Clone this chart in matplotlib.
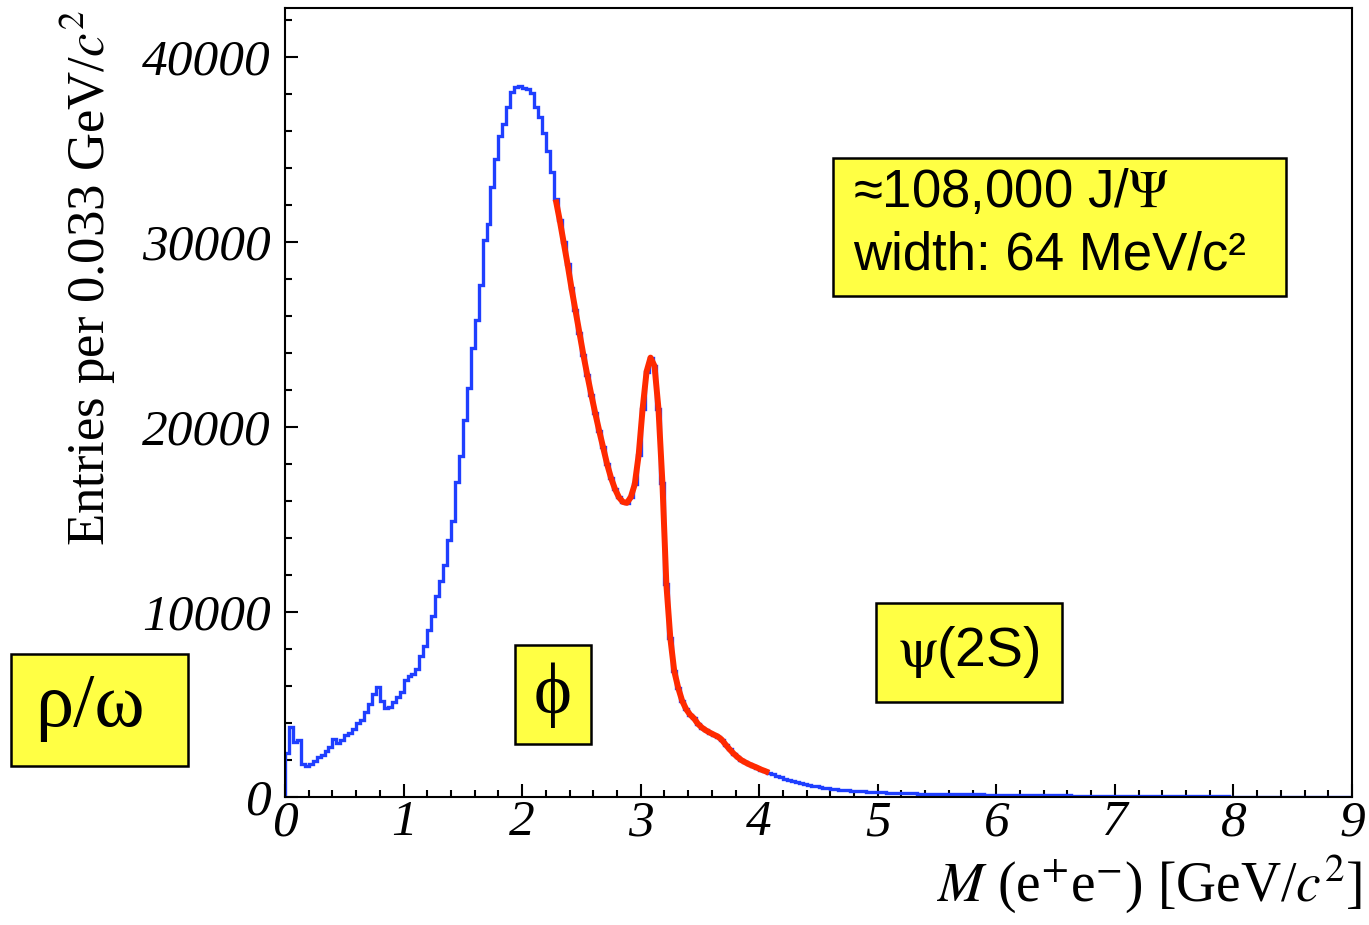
import numpy as np
import matplotlib
matplotlib.use('Agg')
import matplotlib.pyplot as plt
from matplotlib.patches import Rectangle
from matplotlib.ticker import MultipleLocator

plt.rcParams['mathtext.fontset'] = 'stix'

# histogram: 270 bins of 1/30 GeV/c^2 from 0 to 9
counts = [
    # 0 - 1
    2400, 3800, 3000, 3100, 1800, 1650, 1800, 1950, 2150, 2250,
    2500, 2700, 3150, 2900, 3100, 3350, 3450, 3650, 4000, 4150,
    4600, 5050, 5550, 5950, 5200, 4800, 4850, 5150, 5400, 5650,
    # 1 - 2
    6300, 6550, 6650, 6900, 7600, 8150, 9050, 9800, 10850, 11650,
    12550, 13900, 14900, 17050, 18450, 20400, 22100, 24250, 25800, 27650,
    30100, 31000, 32950, 34500, 35750, 36400, 37300, 38100, 38400, 38450,
    # 2 - 3
    38350, 38250, 38050, 37300, 36750, 35900, 34900, 33800, 32300, 31200,
    30000, 28800, 27500, 26300, 25100, 23900, 22800, 21750, 20750, 19800,
    18900, 18000, 17250, 16650, 16200, 15950, 15900, 16200, 16900, 18500,
    # 3 - 4
    21000, 23000, 23750, 23300, 21000, 17000, 11500, 8600, 6800, 5900,
    5200, 4750, 4450, 4250, 3950, 3750, 3600, 3480, 3370, 3270,
    3100, 2830, 2580, 2350, 2160, 1990, 1870, 1760, 1670, 1580,
    # 4 - 5
    1480, 1400, 1310, 1220, 1140, 1060, 990, 920, 850, 790,
    740, 690, 640, 610, 570, 540, 500, 470, 440, 410,
    390, 375, 360, 345, 330, 315, 300, 290, 280, 265,
    # 5 - 6
    255, 245, 240, 230, 225, 215, 210, 200, 195, 190,
    180, 175, 172, 170, 168, 165, 162, 160, 158, 155,
    152, 150, 148, 145, 142, 140, 138, 135, 132, 130,
    # 6 - 7
    128, 125, 122, 120, 118, 115, 112, 110, 108, 105,
    102, 100, 98, 95, 92, 90, 88, 85, 82, 80,
    78, 76, 74, 72, 70, 68, 66, 64, 62, 60,
    # 7 - 8
    58, 57, 56, 55, 53, 52, 50, 49, 48, 46,
    45, 44, 43, 42, 41, 40, 39, 38, 37, 36,
    35, 34, 33, 32, 31, 30, 30, 29, 28, 27,
    # 8 - 9
    27, 26, 25, 25, 24, 23, 23, 22, 22, 21,
    21, 20, 20, 19, 19, 18, 18, 17, 17, 16,
    16, 15, 15, 15, 14, 14, 14, 13, 13, 13,
]
fit_first_bin = 68
fit_last_bin = 122

blue = '#1f3fff'
red = '#ff2a00'
yellow = '#ffff44'

fig = plt.figure(figsize=(13.69, 9.25), dpi=100)
ax = fig.add_axes([285/1369, 1 - 797/925, (1352 - 285)/1369, (797 - 8)/925])

counts = np.array(counts, dtype=float)
edges = np.linspace(0, 9, len(counts) + 1)
centers = 0.5 * (edges[1:] + edges[:-1])

ax.stairs(counts, edges, color=blue, lw=2.4, zorder=2)
ax.plot(centers[fit_first_bin:fit_last_bin + 1], counts[fit_first_bin:fit_last_bin + 1],
        color=red, lw=4.3, solid_capstyle='butt', solid_joinstyle='round', zorder=3)

ax.set_xlim(0, 9)
ax.set_ylim(0, 42650)
ax.xaxis.set_major_locator(MultipleLocator(1))
ax.xaxis.set_minor_locator(MultipleLocator(0.2))
ax.yaxis.set_major_locator(MultipleLocator(10000))
ax.yaxis.set_minor_locator(MultipleLocator(2000))
ax.tick_params(which='both', direction='in', top=False, right=False, width=1.5, color='black')
ax.tick_params(which='major', length=9.5)
ax.tick_params(which='minor', length=5)
ax.tick_params(axis='y', pad=10)
ax.tick_params(axis='x', pad=2)
for sp in ax.spines.values():
    sp.set_linewidth(1.5)
for lab in ax.get_xticklabels() + ax.get_yticklabels():
    lab.set_fontfamily('Liberation Serif')
    lab.set_fontstyle('italic')
    lab.set_fontsize(37)

fig.text(88/1369, 1 - 278/925, r'Entries per 0.033 GeV/$c^2$', rotation=90,
         ha='center', va='center', fontsize=38, family='Liberation Serif')
fig.text(1362/1369, 1 - 884/925, r'$M$ (e$^{+}$e$^{-}$) [GeV/$c^{2}$]',
         ha='right', va='center', fontsize=40, family='Liberation Serif')

def box(x0, y0, x1, y1):
    fig.patches.append(Rectangle((x0/1369, 1 - y1/925), (x1 - x0)/1369, (y1 - y0)/925,
                                 transform=fig.transFigure, facecolor=yellow,
                                 edgecolor='black', lw=1.8, zorder=5))

box(833, 158, 1286, 296)
fig.text(853/1369, 1 - 193/925, '≈108,000 J/$\\Psi$', ha='left', va='center',
         fontsize=38, family='Liberation Sans', zorder=6)
fig.text(853/1369, 1 - 256/925, 'width: 64 MeV/c²', ha='left', va='center',
         fontsize=38, family='Liberation Sans', zorder=6)

box(876, 603, 1062, 702)
fig.text(969/1369, 1 - 652/925, r'$\mathrm{\psi}$(2S)', ha='center', va='center',
         fontsize=40, family='Liberation Sans', zorder=6)

box(515, 645, 591, 744)
fig.text(553/1369, 1 - 695/925, 'ϕ', ha='center', va='center',
         fontsize=52, family=['Liberation Serif', 'DejaVu Serif'], zorder=6)

box(11, 654, 188, 766)
fig.text(90/1369, 1 - 708/925, 'ρ/ω', ha='center', va='center',
         fontsize=55, family=['Liberation Serif', 'DejaVu Serif'], zorder=6)

fig.savefig('out.png', dpi=100)
